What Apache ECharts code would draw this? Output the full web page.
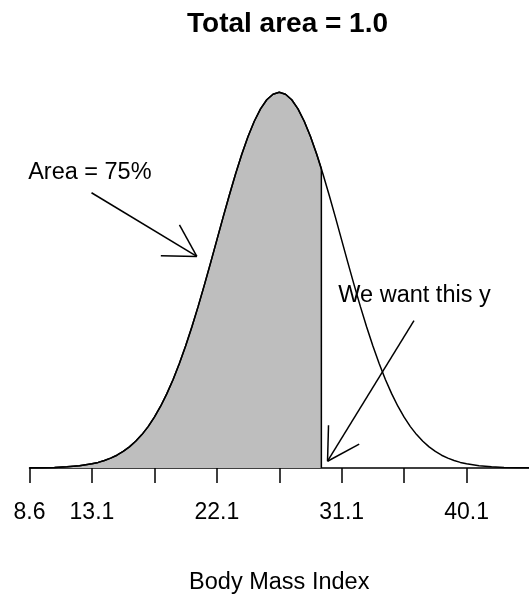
<!DOCTYPE html>
<html>
<head>
<meta charset="utf-8">
<script src="https://cdn.jsdelivr.net/npm/echarts@6/dist/echarts.min.js"></script>
<style>
html,body{margin:0;padding:0;background:#fff;}
#chart{width:529px;height:600px;}
</style>
</head>
<body>
<div id="chart"></div>
<script>
// Body Mass Index values (x) and the normal density (y)
const bmi = [8.6, 9.5, 10.4, 11.3, 12.2, 13.1, 13.55, 14.0, 14.45, 14.9, 15.35, 15.8, 16.25, 16.7, 17.15, 17.6,
  18.05, 18.5, 18.95, 19.4, 19.85, 20.3, 20.75, 21.2, 21.65, 22.1, 22.55, 23.0, 23.45, 23.9, 24.35, 24.8, 25.25, 25.7, 26.15,
  26.6, 27.05, 27.5, 27.95, 28.4, 28.85, 29.3, 29.75, 30.2, 30.65, 31.1, 31.55, 32.0, 32.45, 32.9, 33.35, 33.8, 34.25, 34.7,
  35.15, 35.6, 36.05, 36.5, 36.95, 37.4, 37.85, 38.3, 38.75, 39.2, 39.65, 40.1, 41.0, 41.9, 42.8, 43.7, 44.6];
const density = [0.00003, 0.00006, 0.00014, 0.00027, 0.00053, 0.00098, 0.00132, 0.00176, 0.00232, 0.00302, 0.00390,
  0.00498, 0.00630, 0.00788, 0.00977, 0.01200, 0.01458, 0.01754, 0.02090, 0.02465, 0.02878, 0.03327, 0.03808, 0.04315,
  0.04841, 0.05377, 0.05913, 0.06437, 0.06939, 0.07405, 0.07823, 0.08183, 0.08475, 0.08689, 0.08821, 0.08865,
  0.08821, 0.08689, 0.08475, 0.08183, 0.07823, 0.07405, 0.06939, 0.06437, 0.05913, 0.05377, 0.04841, 0.04315, 0.03808,
  0.03327, 0.02878, 0.02465, 0.02090, 0.01754, 0.01458, 0.01200, 0.00977, 0.00788, 0.00630, 0.00498, 0.00390, 0.00302,
  0.00232, 0.00176, 0.00132, 0.00098, 0.00053, 0.00027, 0.00014, 0.00006, 0.00003];

// 75th percentile cut-off and the curve height there
const q75 = 29.635;
const densityAtQ75 = 0.07061;

// Axis ticks and labels
const tickValues = [8.6, 13.1, 17.6, 22.1, 26.6, 31.1, 35.6, 40.1];
const tickLabels = [8.6, 13.1, 22.1, 31.1, 40.1];

// Annotations (data coordinates)
const noteText = ['Area = 75%', 'We want this y'];
const noteX = [12.95, 36.35];
const noteY = [0.0698, 0.0407];
const arrowFromX = [13.07, 36.31];
const arrowFromY = [0.06495, 0.0348];
const arrowToX = [20.66, 30.08];
const arrowToY = [0.04993, 0.0016];

const curveData = bmi.map((x, i) => [x, density[i]]);
const shadeData = bmi.filter(x => x <= q75).map(x => [x, density[bmi.indexOf(x)]]);
shadeData.push([q75, densityAtQ75]);
shadeData.push([q75, 0]);

const arrowData = arrowFromX.map((x, i) => [x, arrowFromY[i], arrowToX[i], arrowToY[i]]);
const noteData = noteX.map((x, i) => [x, noteY[i]]);

const FONT = 'Liberation Sans, Arial, Helvetica, sans-serif';

const chart = echarts.init(document.getElementById('chart'), null, {renderer: 'canvas'});
chart.setOption({
  animation: false,
  backgroundColor: '#fff',
  title: {
    text: 'Total area = 1.0',
    left: 182,
    top: 5,
    textStyle: {fontFamily: FONT, fontSize: 28, fontWeight: 'bold', color: '#000'}
  },
  grid: {left: 29.5, top: 86.6, width: 501, height: 383.4, containLabel: false},
  xAxis: {
    type: 'value',
    min: 8.6,
    max: 44.6,
    name: 'Body Mass Index',
    nameLocation: 'middle',
    nameGap: 103,
    nameTextStyle: {fontFamily: FONT, fontSize: 23.5, color: '#000'},
    splitLine: {show: false},
    axisLine: {show: true, onZero: false, lineStyle: {color: '#000', width: 1.5}},
    axisTick: {show: true, length: 15, lineStyle: {color: '#000', width: 1.5}, customValues: tickValues},
    axisLabel: {
      show: true, margin: 33, fontFamily: FONT, fontSize: 23, color: '#000',
      customValues: tickLabels,
      formatter: v => Number(v).toFixed(1)
    }
  },
  yAxis: {
    type: 'value', min: 0, max: 0.09, show: false, splitLine: {show: false}
  },
  series: [
    {
      type: 'line',
      data: shadeData,
      showSymbol: false,
      symbol: 'none',
      lineStyle: {color: '#000', width: 1.5},
      areaStyle: {color: '#BEBEBE', opacity: 1, origin: 'start'},
      z: 2
    },
    {
      type: 'line',
      data: curveData,
      showSymbol: false,
      symbol: 'none',
      lineStyle: {color: '#000', width: 1.5},
      z: 3
    },
    {
      type: 'custom',
      data: arrowData,
      clip: false,
      z: 4,
      renderItem: function (params, api) {
        const p0 = api.coord([api.value(0), api.value(1)]);
        const p1 = api.coord([api.value(2), api.value(3)]);
        const ang = Math.atan2(p1[1] - p0[1], p1[0] - p0[0]);
        const L = 36, h = Math.PI / 6;
        const a1 = ang + Math.PI - h, a2 = ang + Math.PI + h;
        const st = {stroke: '#000', lineWidth: 1.5};
        return {
          type: 'group',
          children: [
            {type: 'line', shape: {x1: p0[0], y1: p0[1], x2: p1[0], y2: p1[1]}, style: st},
            {type: 'line', shape: {x1: p1[0], y1: p1[1], x2: p1[0] + L * Math.cos(a1), y2: p1[1] + L * Math.sin(a1)}, style: st},
            {type: 'line', shape: {x1: p1[0], y1: p1[1], x2: p1[0] + L * Math.cos(a2), y2: p1[1] + L * Math.sin(a2)}, style: st}
          ]
        };
      }
    },
    {
      type: 'custom',
      data: noteData,
      clip: false,
      z: 5,
      renderItem: function (params, api) {
        const p = api.coord([api.value(0), api.value(1)]);
        return {
          type: 'text',
          x: p[0], y: p[1],
          style: {
            text: noteText[params.dataIndex],
            fill: '#000',
            font: '23.5px ' + FONT,
            align: 'center',
            verticalAlign: 'middle'
          }
        };
      }
    }
  ]
});
</script>
</body>
</html>
